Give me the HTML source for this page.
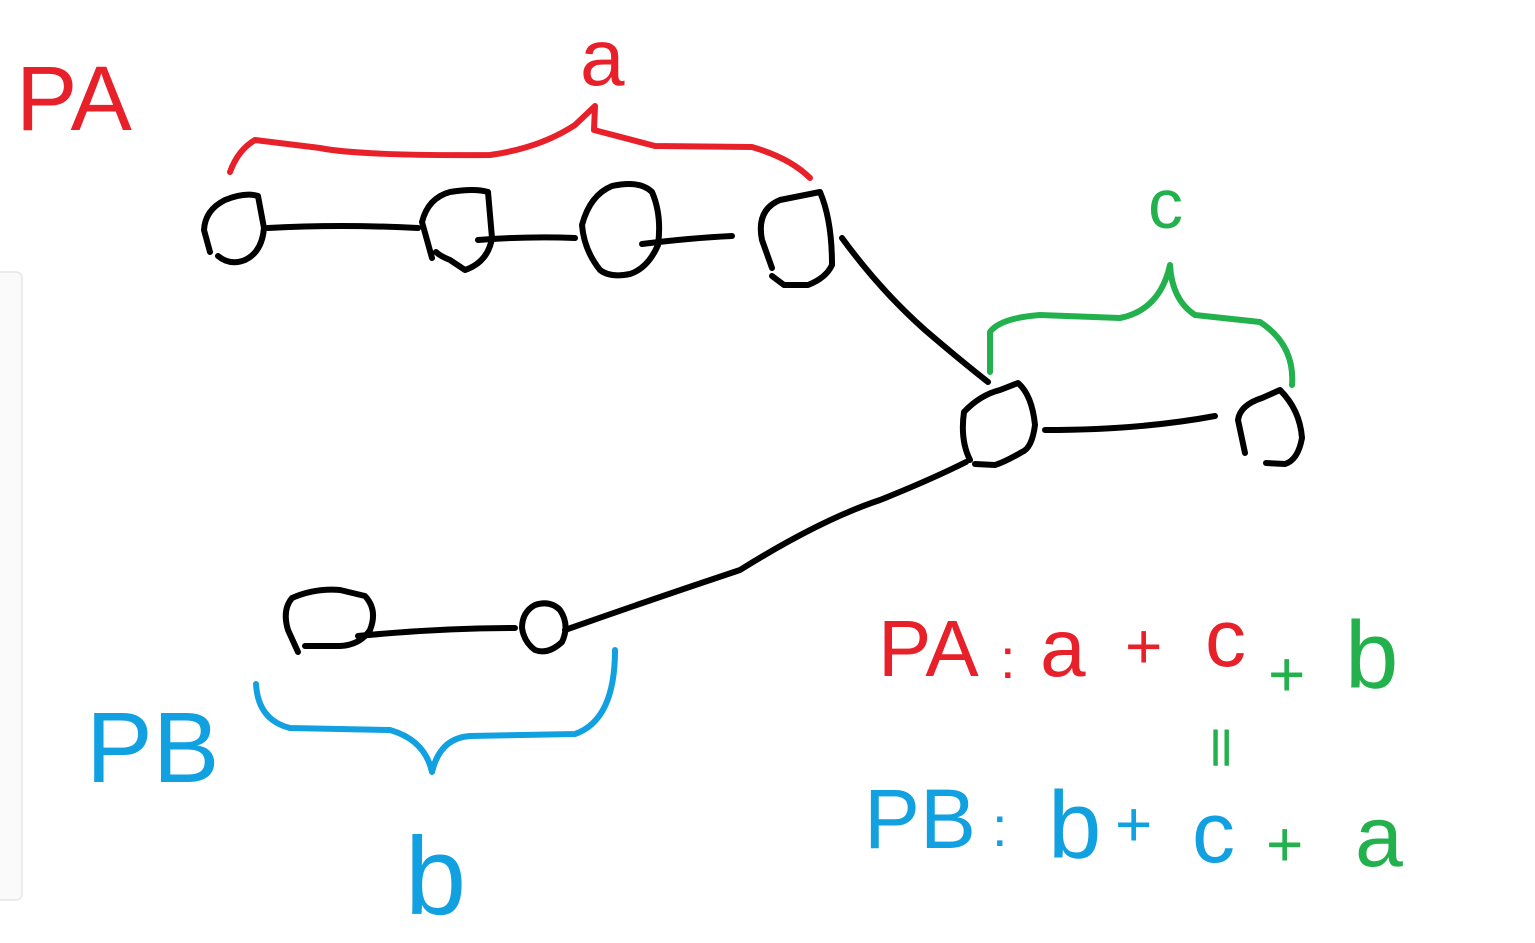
<!DOCTYPE html>
<html><head><meta charset="utf-8"><style>
html,body{margin:0;padding:0;background:#fff;width:1535px;height:943px;overflow:hidden}
svg{position:absolute;left:0;top:0}
.k{fill:none;stroke:#000;stroke-width:6;stroke-linecap:round;stroke-linejoin:round}
.r{fill:none;stroke:#e8202a;stroke-width:6;stroke-linecap:round;stroke-linejoin:round}
.g{fill:none;stroke:#22b14c;stroke-width:6;stroke-linecap:round;stroke-linejoin:round}
.b{fill:none;stroke:#11a0e0;stroke-width:6;stroke-linecap:round;stroke-linejoin:round}
text{font-family:"Liberation Sans",sans-serif;stroke:none}
</style></head><body>
<svg width="1535" height="943" viewBox="0 0 1535 943">
<rect x="-10" y="272" width="32" height="628" rx="6" fill="#fafafa" stroke="#e6e6e6" stroke-width="1.5"/>
<path class="k" d="M210,252 L204,230 Q205,210 225,200 Q245,192 258,196 L264,228 Q262,252 245,260 Q230,266 218,256"/>
<path class="k" d="M432,258 L422,222 Q428,198 450,192 Q475,188 488,192 L492,238 Q488,262 465,270 L450,260 Q440,256 436,252"/>
<path class="k" d="M600,270 Q584,250 582,225 Q590,195 612,186 Q640,180 652,192 Q662,215 658,245 Q648,268 630,274 Q610,278 600,270"/>
<path class="k" d="M772,268 L762,240 Q756,210 780,200 L820,192 Q832,220 832,265 Q826,278 808,285 L784,285 L772,276"/>
<path class="k" d="M970,460 Q960,440 964,412 Q980,395 1000,390 L1018,383 Q1032,395 1035,425 Q1032,448 1022,452 Q1005,462 995,465 L975,464"/>
<path class="k" d="M1245,453 L1238,420 Q1240,405 1262,398 L1280,390 Q1300,410 1302,438 Q1298,460 1285,464 L1266,463"/>
<path class="k" d="M298,652 L288,630 Q282,610 292,598 Q315,588 340,590 L365,596 Q378,610 370,630 Q360,645 340,646 L305,646"/>
<path class="k" d="M522,628 Q522,612 535,605 Q550,600 560,610 Q570,625 562,642 Q548,655 535,650 Q524,642 522,628"/>
<path class="k" d="M268,228 Q340,224 418,228"/>
<path class="k" d="M478,240 Q530,236 575,238"/>
<path class="k" d="M642,244 Q690,238 732,236"/>
<path class="k" d="M842,238 Q880,290 925,330 Q960,360 988,382"/>
<path class="k" d="M1045,430 Q1140,430 1215,416"/>
<path class="k" d="M966,462 Q930,480 880,500 Q820,520 740,570 Q650,600 565,630"/>
<path class="k" d="M358,636 Q440,628 515,628"/>
<path class="r" d="M230,172 Q238,150 255,140 L320,148 Q360,156 490,155 Q540,148 575,125 L595,106 L594,130 L655,146 L752,147 Q790,158 810,178"/>
<path class="g" d="M990,372 L990,332 Q1000,318 1040,315 L1120,318 Q1160,310 1170,265 Q1172,300 1195,315 L1260,322 Q1295,345 1292,385"/>
<path class="b" d="M256,684 Q258,720 290,728 L390,730 Q425,740 432,772 Q440,738 470,736 L575,734 Q615,720 615,650"/>
<g fill="#e8202a">
<text x="16" y="130" font-size="92">PA</text>
<text x="580" y="85" font-size="80">a</text>
<text x="878" y="676" font-size="80">PA</text>
<text x="1000" y="678" font-size="56">:</text>
<text x="1040" y="676" font-size="82">a</text>
<text x="1125" y="668" font-size="64">+</text>
<text x="1205" y="666" font-size="82">c</text>
</g>
<g fill="#22b14c">
<text x="1148" y="228" font-size="70">c</text>
<text x="1268" y="696" font-size="64">+</text>
<text x="1345" y="688" font-size="96">b</text>
<text x="1210" y="766" font-size="50">ll</text>
<text x="1266" y="866" font-size="64">+</text>
<text x="1355" y="866" font-size="86">a</text>
</g>
<g fill="#11a0e0">
<text x="86" y="782" font-size="100">PB</text>
<text x="405" y="914" font-size="110">b</text>
<text x="864" y="848" font-size="84">PB</text>
<text x="992" y="846" font-size="56">:</text>
<text x="1048" y="858" font-size="96">b</text>
<text x="1115" y="846" font-size="64">+</text>
<text x="1192" y="862" font-size="86">c</text>
</g>
</svg>
</body></html>
